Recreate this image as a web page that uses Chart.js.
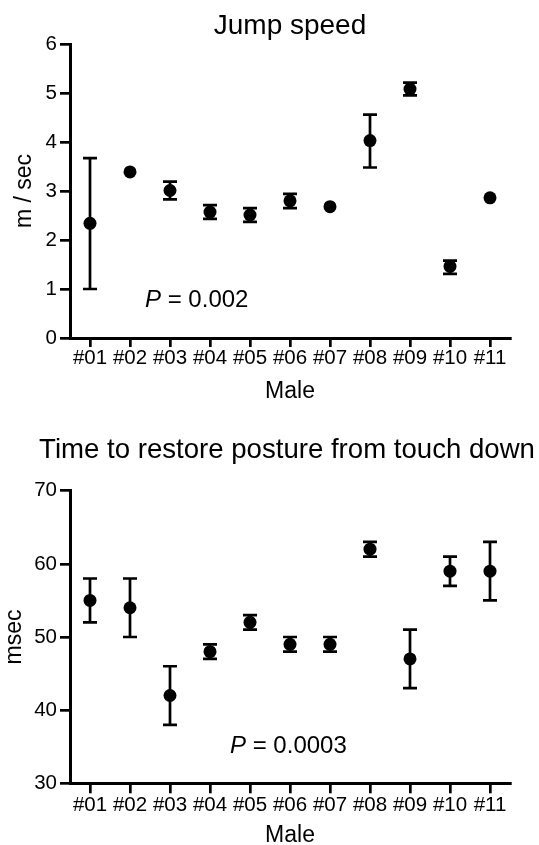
<!DOCTYPE html>
<html><head><meta charset="utf-8">
<script src="https://cdn.jsdelivr.net/npm/chart.js@4"></script>
<style>
html,body{margin:0;padding:0;background:#fff;width:539px;height:845px;overflow:hidden}
.box{position:absolute;left:0;width:539px}
</style></head><body>
<div class="box" style="top:0;height:410px"><canvas id="c1"></canvas></div>
<div class="box" style="top:410px;height:435px"><canvas id="c2"></canvas></div>
<script>
const males = ['#01','#02','#03','#04','#05','#06','#07','#08','#09','#10','#11'];
const speedMean  = [2.34, 3.39, 3.01, 2.57, 2.51, 2.80, 2.68, 4.03, 5.08, 1.46, 2.86];
const speedUpper = [3.67, null, 3.19, 2.71, 2.65, 2.94, null, 4.56, 5.21, 1.58, null];
const speedLower = [1.00, null, 2.83, 2.43, 2.37, 2.65, null, 3.48, 4.95, 1.31, null];
const speedTicks = {min:0, max:6, step:1};

const postureMean  = [55, 54, 42, 48, 52, 49, 49, 62, 47, 59, 59];
const postureUpper = [58, 58, 46, 49, 53, 50, 50, 63, 51, 61, 63];
const postureLower = [52, 50, 38, 47, 51, 48, 48, 61, 43, 57, 55];
const postureTicks = {min:30, max:70, step:10};

const FONT = '"Liberation Sans", Arial, Helvetica, sans-serif';
Chart.defaults.font.family = FONT;
Chart.defaults.color = '#000';

const errorBars = {
  id: 'errorBars',
  afterDatasetsDraw(chart, args, opts) {
    const {ctx, scales: {x, y}} = chart;
    ctx.save();
    ctx.strokeStyle = '#000';
    ctx.lineWidth = opts.lineWidth;
    opts.lower.forEach((lo, i) => {
      const hi = opts.upper[i];
      if (lo == null || hi == null) return;
      const px = x.getPixelForValue(i);
      const y1 = y.getPixelForValue(hi), y2 = y.getPixelForValue(lo);
      ctx.beginPath();
      ctx.moveTo(px, y1); ctx.lineTo(px, y2);
      ctx.moveTo(px - opts.cap, y1); ctx.lineTo(px + opts.cap, y1);
      ctx.moveTo(px - opts.cap, y2); ctx.lineTo(px + opts.cap, y2);
      ctx.stroke();
    });
    ctx.restore();
  }
};

const texts = {
  id: 'texts',
  afterDraw(chart, args, opts) {
    const {ctx, chartArea} = chart;
    ctx.save();
    ctx.fillStyle = '#000';
    ctx.textBaseline = 'alphabetic';
    ctx.textAlign = 'center';
    ctx.font = opts.titleSize + 'px ' + FONT;
    ctx.fillText(opts.title, (chartArea.left + chartArea.right) / 2 + opts.dx, opts.titleY);
    ctx.textAlign = 'left';
    ctx.font = 'italic 24px ' + FONT;
    ctx.fillText('P', opts.px, opts.py);
    const w = ctx.measureText('P').width;
    ctx.font = '24px ' + FONT;
    ctx.fillText(' = ' + opts.pval, opts.px + w, opts.py);
    ctx.restore();
  }
};

function makeChart(id, cfg) {
  return new Chart(document.getElementById(id), {
    type: 'line',
    data: {
      labels: males,
      datasets: [{
        data: cfg.mean,
        showLine: false,
        pointRadius: 6.5,
        pointHoverRadius: 6.5,
        pointBackgroundColor: '#000',
        pointBorderColor: '#000',
        pointBorderWidth: 0
      }]
    },
    options: {
      responsive: true,
      maintainAspectRatio: false,
      animation: false,
      events: [],
      layout: {padding: {left: 0, right: 29, top: cfg.top, bottom: cfg.bottomPad}},
      plugins: {
        legend: {display: false},
        tooltip: {enabled: false},
        errorBars: {lower: cfg.lower, upper: cfg.upper, cap: 7, lineWidth: 2.7},
        texts: cfg.texts
      },
      scales: {
        x: {
          offset: true,
          afterFit(s) { s.height = cfg.xh; },
          border: {display: true, color: '#000', width: 3},
          grid: {display: true, drawOnChartArea: false, drawTicks: true, tickLength: cfg.xtl, color: '#000', lineWidth: 2.7},
          ticks: {font: {size: 20.5, lineHeight: 1}, padding: cfg.xpad, maxRotation: 0, autoSkip: false},
          title: {display: true, text: 'Male', font: {size: 23, lineHeight: 0.8}, padding: 0}
        },
        y: {
          min: cfg.ticks.min, max: cfg.ticks.max,
          afterFit(s) { s.width = 70; },
          border: {display: true, color: '#000', width: 3},
          grid: {display: true, drawOnChartArea: false, drawTicks: true, tickLength: 10, color: '#000', lineWidth: 2.7},
          ticks: {stepSize: cfg.ticks.step, font: {size: 20.5, lineHeight: 1}, padding: 3},
          title: {display: true, text: cfg.ytitle, font: {size: 23, lineHeight: 1}, padding: {top: cfg.ytpad, bottom: 0}}
        }
      }
    },
    plugins: [errorBars, texts]
  });
}

makeChart('c1', {
  mean: speedMean, upper: speedUpper, lower: speedLower, ticks: speedTicks,
  top: 44, bottomPad: 9, xh: 63, xtl: 9, xpad: 1,
  ytitle: 'm / sec', ytpad: 13,
  texts: {title: 'Jump speed', titleSize: 28, titleY: 33.5, dx: 0, px: 145, py: 307, pval: '0.002'}
});

makeChart('c2', {
  mean: postureMean, upper: postureUpper, lower: postureLower, ticks: postureTicks,
  top: 80.7, bottomPad: 0.3, xh: 61.4, xtl: 10, xpad: 1.5,
  ytitle: 'msec', ytpad: 3,
  texts: {title: 'Time to restore posture from touch down', titleSize: 27.6, titleY: 48, dx: -3, px: 230, py: 343.3, pval: '0.0003'}
});
</script>
</body></html>
